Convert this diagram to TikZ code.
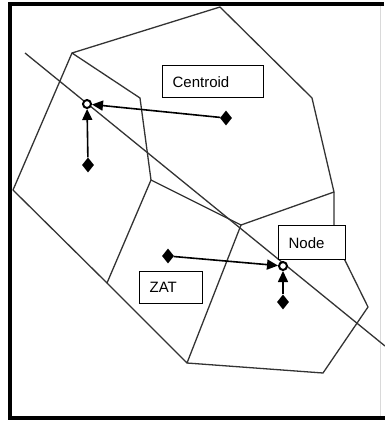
\documentclass[tikz,border=0pt]{standalone}
\usepackage{fontspec}
\setsansfont{Liberation Sans}
\usetikzlibrary{shapes.geometric,arrows.meta}

\begin{document}
\begin{tikzpicture}[x=1pt, y=-1pt,
    cellline/.style={draw=black!80, line width=1.3pt, line join=round},
    tagbox/.style={draw, line width=1.3pt, fill=white, anchor=north west,
        font=\sffamily\fontsize{15}{18}\selectfont, align=left,
        inner xsep=10pt, inner ysep=0pt},
    zonecentre/.style={diamond, fill=black, inner sep=0pt, minimum width=12pt, minimum height=15pt},
    netnode/.style={circle, draw, fill=white, line width=2pt, inner sep=0pt, minimum size=8pt},
    connector/.style={line width=1.6pt, -{Triangle[length=11pt,width=10pt]}}]
                \useasboundingbox (0,0) rectangle (385,421);
                % frame
                \draw[black!15, line width=1pt] (380,6) -- (380,416);
                \draw[line width=4pt] (384,4) -- (10,4) -- (10,418) -- (385,418);
                % zone corners
                \foreach \n/\x/\y in {a/220/7, b/72/53, c/140/98, d/151/180, e/312/98,
                    f/334/192, g/241/225, h/107/283, l/13/190, k/187/363,
                    m/334/238, q/368/307, r/323/373} {
                    \coordinate (\n) at (\x,\y);
                }
                \draw[cellline] (b) -- (a) -- (e) -- (f) -- (g) -- (d) -- (c) -- cycle;
                \draw[cellline] (b) -- (l) -- (h) -- (d);
                \draw[cellline] (h) -- (k) -- (g);
                \draw[cellline] (f) -- (m) -- (q) -- (r) -- (k);
                % network link
                \coordinate (s1) at (25,53);
                \coordinate (s2) at (385,346);
                \draw[cellline] (s1) -- (s2);
                % labels
                \node[tagbox, text width=81pt, minimum height=32pt] (tcentroid) at (162,65) {Centroid};
                \node[tagbox, text width=43pt, minimum height=32pt] (tzat) at (139,271) {ZAT};
                \node[tagbox, text width=47pt, minimum height=34pt] (tnode) at (278,225) {Node};
                % centroids and nodes
                \foreach \i/\x/\y in {1/226/118, 2/88/165, 3/168/256, 4/283/302} {
                    \node[zonecentre] (z\i) at (\x,\y) {};
                }
                \node[netnode] (n1) at (87,104) {};
                \node[netnode] (n2) at (283,266) {};
                \draw[connector] (z1) -- (n1);
                \draw[connector] (z2) -- (n1);
                \draw[connector] (z3) -- (n2);
                \draw[connector] (z4) -- (n2);
            \end{tikzpicture}
\end{document}
